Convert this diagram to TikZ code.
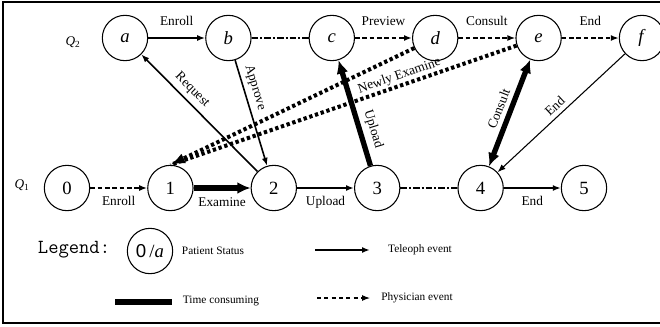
\documentclass[tikz,border=0pt]{standalone}
\usepackage{fontspec}
\setmainfont{Liberation Serif}
\setsansfont{Liberation Sans}
\usetikzlibrary{arrows.meta,positioning}
\tikzset{every picture/.style={
  >={Latex[length=6pt,width=4.5pt]}   % Filled arrow tips.
  }
}

\begin{document}
\begin{tikzpicture}[
        x=0.75pt, y=0.75pt,
        node distance=42.75pt,
        bigtip/.tip={Latex[length=10pt,width=9pt]},
        st/.style={
          draw,
          circle,
          line width=0.8pt,
          minimum size=34pt,
          inner sep=0pt,
          font=\fontsize{14}{16}\selectfont
        },
        lbl/.style={font=\fontsize{10}{12}\selectfont},
        keytext/.style={font=\fontsize{8.5}{10}\selectfont},
        teleoph/.style={->, line width=1.2pt},
        physician/.style={->, line width=1.2pt, dash pattern=on 3.5pt off 2pt},
        timecons/.style={-bigtip, line width=4pt},
        idle/.style={line width=1.2pt, dash pattern=on 5pt off 1.5pt on 1.5pt off 1.5pt},
        newexam/.style={line width=3pt, dash pattern=on 2.5pt off 2pt}
        ]

        % Frame.
        \useasboundingbox (0,0) rectangle (660,326);
        \draw[line width=1.2pt] (3,3) rectangle (664,324);

        % Physician states.
        \node[lbl] (q2) at (73,284) {\textit{Q}\textsubscript{2}};
        \node[st] (a) at (125,288) {\textit{a}};
        \node[st, right=of a] (b) {\textit{b}};
        \node[st, right=of b] (c) {\textit{c}};
        \node[st, right=of c] (d) {\textit{d}};
        \node[st, right=of d] (e) {\textit{e}};
        \node[st, right=of e] (f) {\textit{f}};

        % Patient states.
        \node[lbl] (q1) at (22,141) {\textit{Q}\textsubscript{1}};
        \node[st] (s0) at (67,138) {0};
        \node[st, right=of s0] (s1) {1};
        \node[st, right=of s1] (s2) {2};
        \node[st, right=of s2] (s3) {3};
        \node[st, right=of s3] (s4) {4};
        \node[st, right=of s4] (s5) {5};

        % Events along the rows.
        \draw[teleoph] (a) -- node[lbl, above=5pt] (lenroll) {Enroll} (b);
        \draw[idle] (b) -- (c);
        \draw[physician] (c) -- node[lbl, above=5pt] (lpreview) {Preview} (d);
        \draw[physician] (d) -- node[lbl, above=5pt] (lconsult) {Consult} (e);
        \draw[physician] (e) -- node[lbl, above=5pt] (lend) {End} (f);

        \draw[physician] (s0) -- node[lbl, below=2pt] (lenroll1) {Enroll} (s1);
        \draw[timecons] (s1) -- node[lbl, below=2pt] (lexamine) {Examine} (s2);
        \draw[teleoph] (s2) -- node[lbl, below=2pt] (lupload) {Upload} (s3);
        \draw[idle] (s3) -- (s4);
        \draw[teleoph] (s4) -- node[lbl, below=2pt] (lend1) {End} (s5);

        % Events between the rows.
        \draw[teleoph] (s2) -- node[lbl, sloped, above, pos=0.63] (lrequest) {Request} (a);
        \draw[teleoph] (b) -- node[lbl, sloped, above, pos=0.29] (lapprove) {Approve} (s2);
        \draw[timecons] (s3) -- node[lbl, sloped, above, pos=0.31] (lupload2) {Upload} (c);
        \draw[timecons, bigtip-bigtip] (s4) -- node[lbl, sloped, above] (lconsult2) {Consult} (e);
        \draw[->, line width=0.8pt] (f) -- node[lbl, sloped, above] (lend2) {End} (s4);
        \draw[newexam, -{Latex[length=11pt,width=8pt]}] (d) -- (s1.north);
        \draw[newexam] (e) -- node[lbl, sloped, above, pos=0.33, inner sep=1pt] (lnewly) {Newly Examine} (s1.north);

        % Legend.
        \node[font=\ttfamily\fontsize{15}{17}\selectfont] (legend) at (74,76) {Legend:};
        \node[st] (key) at (150,75) {{\sffamily 0}\,/\textit{a}};
        \node[keytext] (kstatus) at (213,75) {Patient Status};

        \coordinate (kt1) at (315,76);
        \coordinate (kt2) at (370,76);
        \draw[teleoph] (kt1) -- (kt2);
        \node[keytext] (kteleoph) at (420,76) {Teleoph event};

        \coordinate (kc1) at (115,24);
        \coordinate (kc2) at (172,24);
        \draw[line width=4pt] (kc1) -- (kc2);
        \node[keytext] (ktime) at (221,25) {Time consuming};

        \coordinate (kp1) at (317,28);
        \coordinate (kp2) at (370,28);
        \draw[->, line width=0.8pt, dash pattern=on 3pt off 2.5pt] (kp1) -- (kp2);
        \node[keytext] (kphys) at (417,28) {Physician event};
      \end{tikzpicture}
\end{document}
